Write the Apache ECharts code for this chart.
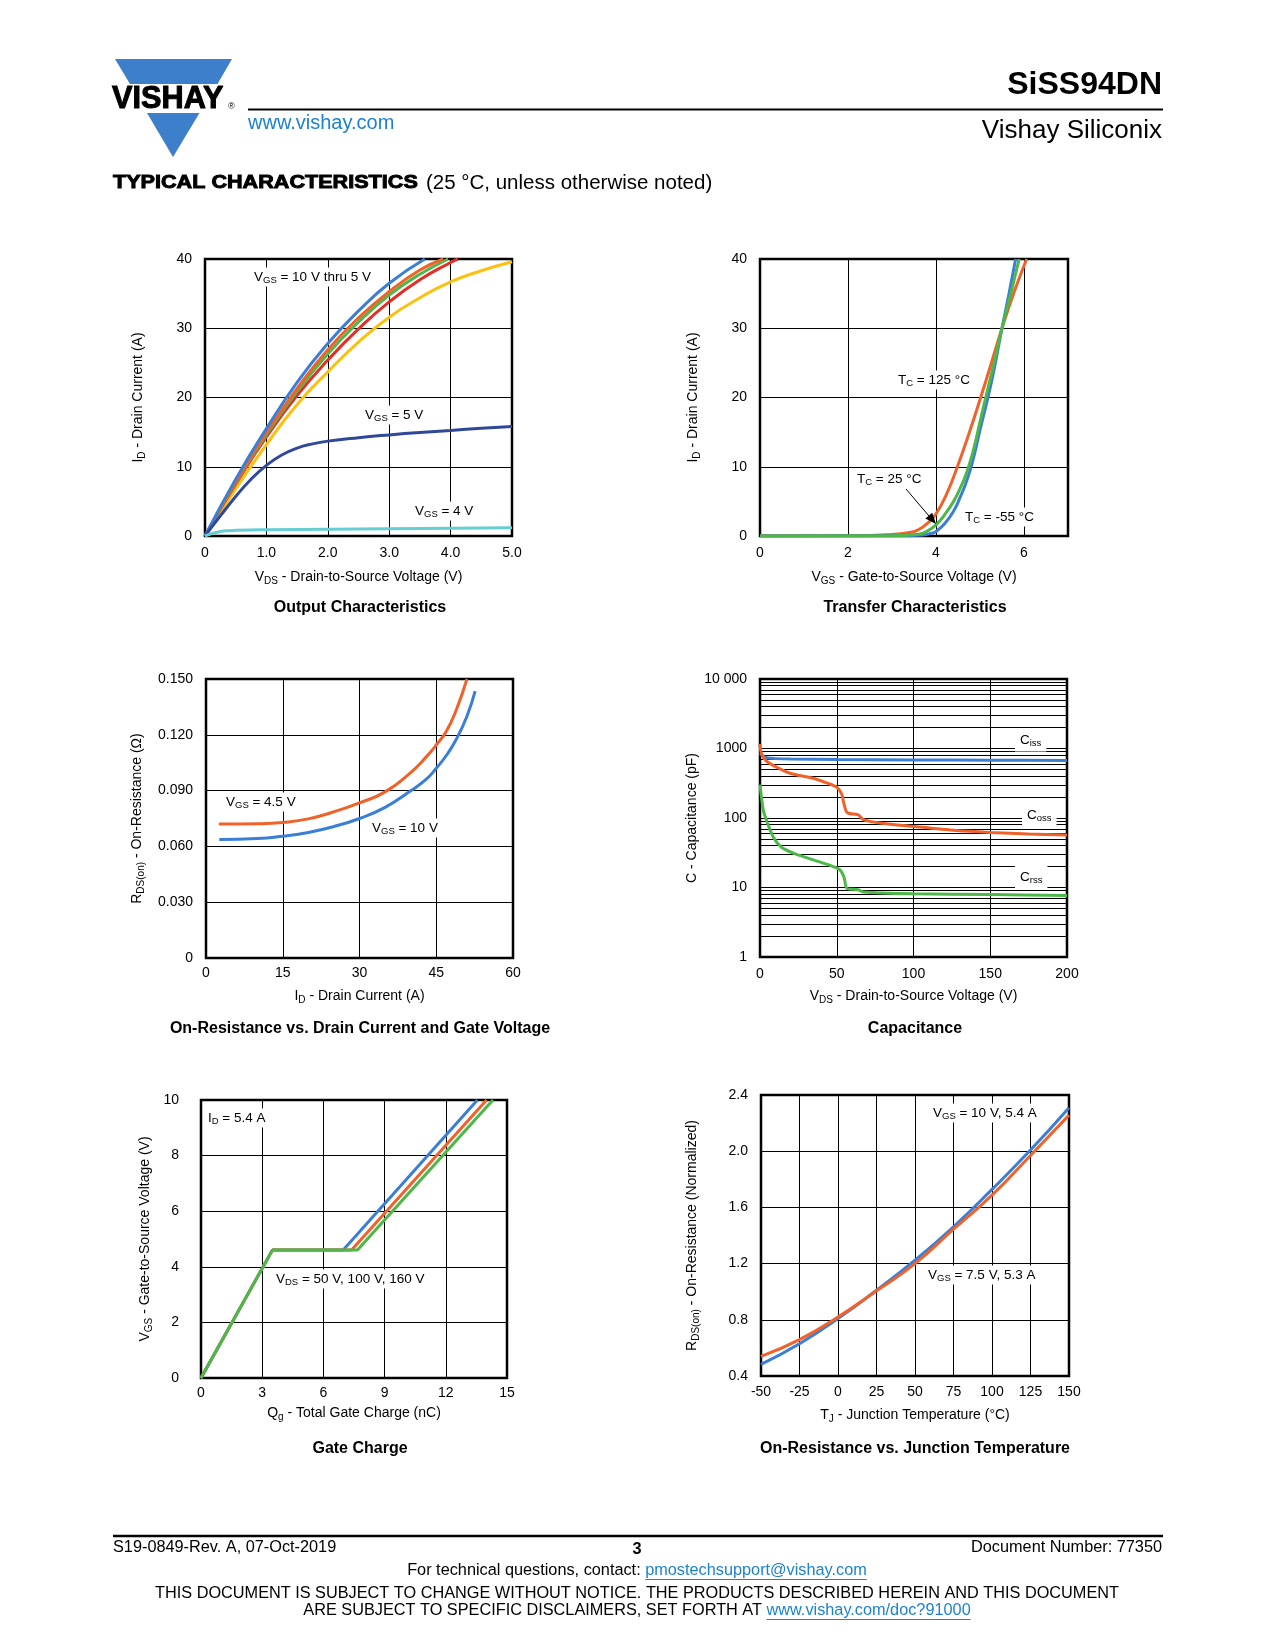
<!DOCTYPE html>
<html><head><meta charset="utf-8">
<script src="https://cdn.jsdelivr.net/npm/echarts@6/dist/echarts.min.js"></script>
<style>html,body{margin:0;padding:0;background:#fff}#c{width:1275px;height:1650px}</style>
</head><body><div id="c"></div>
<script>
const FONT = '"Liberation Sans", Arial, Helvetica, sans-serif';

// ---------- Output Characteristics (VDS, ID) ----------
const outVgs10 = [[0,0],[0.5,8.2],[1,15.5],[1.5,22.2],[2,27.8],[2.5,32.5],[3,36.5],[3.58,40]];
const outVgs9  = [[0,0],[0.5,7.8],[1,14.9],[1.5,21.3],[2,26.9],[2.5,31.5],[3,35.3],[3.5,38.4],[3.88,40]];
const outVgs8  = [[0,0],[0.5,7.7],[1,14.6],[1.5,20.9],[2,26.3],[2.5,30.9],[3,34.8],[3.5,37.8],[3.96,40]];
const outVgs7  = [[0,0],[0.5,7.5],[1,14.3],[1.5,20.3],[2,25.4],[2.5,29.9],[3,33.8],[3.5,37.0],[4.0,39.5],[4.12,40]];
const outVgs6  = [[0,0],[0.5,6.8],[1,13.2],[1.5,19.0],[2,23.7],[2.5,28.0],[3,31.6],[3.5,34.4],[4,36.7],[4.5,38.3],[5,39.6]];
const outVgs5  = [[0,0],[0.25,2.9],[0.5,5.7],[0.75,8.2],[1,10.2],[1.25,11.7],[1.5,12.7],[1.75,13.3],[2,13.7],[2.5,14.2],[3,14.6],[3.5,14.95],[4,15.25],[4.5,15.55],[5,15.8]];
const outVgs4  = [[0,0],[0.1,0.3],[0.2,0.55],[0.35,0.75],[0.5,0.82],[1,0.9],[2,0.98],[3,1.05],[4,1.12],[5,1.2]];

// ---------- Transfer Characteristics (VGS, ID) ----------
const trTc125 = [[0,0],[2,0.02],[3,0.2],[3.4,0.5],[3.6,0.9],[3.8,1.8],[4,3.2],[4.25,6.2],[4.48,9.9],[4.75,14.8],[5.01,19.9],[5.25,24.8],[5.5,30],[5.78,35.3],[6.06,40]];
const trTc25  = [[0,0],[3,0.05],[3.6,0.25],[3.8,0.7],[4,1.6],[4.2,3.1],[4.4,5.0],[4.55,6.9],[4.7,9.2],[4.85,12.4],[5.0,16.5],[5.13,20],[5.32,25],[5.5,30],[5.7,35],[5.89,40]];
const trTcM55 = [[0,0],[3,0.02],[3.7,0.15],[3.9,0.4],[4.0,0.65],[4.2,1.8],[4.4,3.6],[4.55,5.6],[4.7,8.0],[4.85,11.2],[5.0,15.3],[5.2,20.5],[5.35,25],[5.5,30],[5.66,35],[5.81,40]];

// ---------- On-Resistance vs Drain Current (ID, RDS) ----------
const ronVgs45 = [[2.5,0.072],[10,0.0722],[15,0.0729],[20,0.0748],[25,0.0786],[30,0.0834],[35,0.0893],[40,0.0997],[43,0.108],[45,0.1145],[47,0.122],[49,0.134],[51,0.150]];
const ronVgs10 = [[2.6,0.0637],[10,0.0642],[15,0.0655],[20,0.0675],[25,0.0707],[30,0.075],[35,0.081],[40,0.0899],[43,0.096],[45,0.102],[47,0.109],[49,0.118],[51,0.13],[52.6,0.1435]];

// ---------- Capacitance (VDS, pF) ----------
const capCiss = [[0,850],[2,780],[5,730],[10,715],[20,705],[50,695],[100,685],[150,678],[200,672]];
const capCoss = [[0,1165],[1,838],[4.3,656],[13,509],[19.5,441],[34.7,373],[43.4,320],[50,277],[53.2,222],[54.7,160],[56.9,119],[64,111],[67.3,95],[78,85],[100,75.5],[128,66],[150,62],[175,59],[200,57]];
const capCrss = [[0,303],[2.2,128],[4.3,92],[8.7,53],[14,38],[21.7,31.2],[34.7,25],[45.6,20.8],[52,18],[54.7,14.1],[56.9,9.6],[64,9.3],[67.3,8.6],[100,8.1],[150,7.9],[200,7.7]];
const capMinorTicks = [2,3,4,5,6,7,8,9,20,30,40,50,60,70,80,90,200,300,400,500,600,700,800,900,2000,3000,4000,5000,6000,7000,8000,9000];

// ---------- Gate Charge (Qg, VGS) ----------
const gcVds50  = [[0,0],[3.5,4.6],[6.97,4.6],[13.55,10]];
const gcVds100 = [[0,0],[3.5,4.6],[7.38,4.6],[14.0,10]];
const gcVds160 = [[0,0],[3.5,4.6],[7.67,4.6],[14.31,10]];

// ---------- On-Resistance vs Junction Temperature (TJ, norm) ----------
const rtVgs10 = [[-50,0.483],[-25,0.63],[0,0.809],[25,1.01],[50,1.224],[75,1.462],[100,1.728],[125,2.008],[150,2.31]];
const rtVgs75 = [[-50,0.54],[-25,0.659],[0,0.82],[25,1.006],[50,1.2],[75,1.445],[100,1.687],[125,1.97],[150,2.257]];

// colors
const C_BLUE='#3a7fd5', C_ORANGE='#f0622a', C_GREEN='#4cb848', C_RED='#e52d27', C_YELLOW='#fcc10f', C_DKBLUE='#2f4899', C_CYAN='#66cdd3';

const RN = {
  m:{fontSize:14, fontFamily:FONT, color:'#000', lineHeight:18},
  s:{fontSize:10, fontFamily:FONT, color:'#000', lineHeight:10, verticalAlign:'bottom'}
};
const RA = {
  m:{fontSize:13.5, fontFamily:FONT, fill:'#000', lineHeight:17},
  s:{fontSize:9.5, fontFamily:FONT, fill:'#000', lineHeight:9.5, verticalAlign:'bottom'}
};
function rt(parts){ return parts.map((p,i)=> p===''?'':((i%2===0?'{m|':'{s|')+p+'}')).join(''); }

const grids = [
  {left:205, top:259, width:307, height:277},
  {left:760, top:259, width:308, height:277},
  {left:206, top:679, width:307, height:279},
  {left:760, top:679, width:307, height:278},
  {left:201, top:1100, width:306, height:278},
  {left:761, top:1095, width:308, height:281}
].map(g=>Object.assign({show:true, borderColor:'#000', borderWidth:2.5, backgroundColor:'transparent', containLabel:false}, g));

const SPL = {show:true, lineStyle:{color:'#000', width:1, type:'solid'}};
function xA(gi,min,max,interval,fmt,name,nameGap,margin,extra){
  return Object.assign({type:'value', gridIndex:gi, min, max, interval,
    axisLine:{show:false}, axisTick:{show:false}, splitLine:SPL,
    axisLabel:{color:'#000', fontSize:14, fontFamily:FONT, margin, formatter:fmt},
    name, nameLocation:'middle', nameGap, nameTextStyle:{color:'#000', fontSize:14, fontFamily:FONT, rich:RN}}, extra||{});
}
function yA(gi,min,max,interval,fmt,name,nameGap,margin,extra){
  return Object.assign({type:'value', gridIndex:gi, min, max, interval,
    axisLine:{show:false}, axisTick:{show:false}, splitLine:SPL,
    axisLabel:{color:'#000', fontSize:14, fontFamily:FONT, margin, formatter:fmt},
    name, nameLocation:'middle', nameGap, nameTextStyle:{color:'#000', fontSize:14, fontFamily:FONT, rich:RN}}, extra||{});
}
const f1 = v => v===0?'0':v.toFixed(1);
const fInt = v => String(Math.round(v));
const f3 = v => v===0?'0':v.toFixed(3);

const xAxis = [
  xA(0,0,5,1,f1, rt(['V','DS',' - Drain-to-Source Voltage (V)']), 32, 10),
  xA(1,0,7,2,fInt, rt(['V','GS',' - Gate-to-Source Voltage (V)']), 32, 10, {axisLabel:{color:'#000',fontSize:14,fontFamily:FONT,margin:10,formatter:fInt,showMaxLabel:false}}),
  xA(2,0,60,15,fInt, rt(['I','D',' - Drain Current (A)']), 29, 8),
  xA(3,0,200,50,fInt, rt(['V','DS',' - Drain-to-Source Voltage (V)']), 30, 10),
  xA(4,0,15,3,fInt, rt(['Q','g',' - Total Gate Charge (nC)']), 26, 8),
  xA(5,-50,150,25,fInt, rt(['T','J',' - Junction Temperature (°C)']), 30, 9)
];
const yAxis = [
  yA(0,0,40,10,fInt, rt(['I','D',' - Drain Current (A)']), 58, 13),
  yA(1,0,40,10,fInt, rt(['I','D',' - Drain Current (A)']), 58, 13),
  yA(2,0,0.15,0.03,f3, rt(['R','DS(on)',' - On-Resistance (Ω)']), 60, 13),
  {type:'log', logBase:10, gridIndex:3, min:1, max:10000,
    axisLine:{show:false}, axisTick:{show:false}, splitLine:SPL, minorSplitLine:{show:false},
    axisLabel:{color:'#000', fontSize:14, fontFamily:FONT, margin:13, formatter:v=> v>=10000?'10 000':String(Math.round(v))},
    name:'{m|C - Capacitance (pF)}', nameLocation:'middle', nameGap:59, nameTextStyle:{color:'#000', fontSize:14, fontFamily:FONT, rich:RN}},
  yA(4,0,10,2,fInt, rt(['V','GS',' - Gate-to-Source Voltage (V)']), 47, 22),
  yA(5,0.4,2.4,0.4,v=>v.toFixed(1), rt(['R','DS(on)',' - On-Resistance (Normalized)']), 60, 13)
];

function ser(data,color,idx,extra){
  return Object.assign({type:'line', xAxisIndex:idx, yAxisIndex:idx, data, symbol:'none', showSymbol:false,
    lineStyle:{color, width:3}, itemStyle:{color}, smooth:0.5, silent:true, z:3}, extra||{});
}
const series = [
  ser(outVgs6,C_YELLOW,0), ser(outVgs7,C_RED,0), ser(outVgs8,C_GREEN,0), ser(outVgs9,C_ORANGE,0), ser(outVgs10,C_BLUE,0),
  ser(outVgs5,C_DKBLUE,0), ser(outVgs4,C_CYAN,0),
  ser(trTc125,C_ORANGE,1), ser(trTcM55,C_BLUE,1), ser(trTc25,C_GREEN,1),
  ser(ronVgs45,C_ORANGE,2), ser(ronVgs10,C_BLUE,2),
  {type:'line', xAxisIndex:3, yAxisIndex:3, data:[[0,1],[200,1]], symbol:'none', silent:true, z:1,
    lineStyle:{width:0, opacity:0},
    markLine:{silent:true, z:1, symbol:['none','none'], label:{show:false}, emphasis:{disabled:true},
      lineStyle:{color:'#000', width:1, type:'solid'}, data:capMinorTicks.map(v=>({yAxis:v}))}},
  ser(capCiss,C_BLUE,3,{smooth:0.3}), ser(capCoss,C_ORANGE,3,{smooth:0.3}), ser(capCrss,C_GREEN,3,{smooth:0.3}),
  ser(gcVds50,C_BLUE,4,{smooth:false}), ser(gcVds100,C_ORANGE,4,{smooth:false}), ser(gcVds160,C_GREEN,4,{smooth:false}),
  ser(rtVgs10,C_BLUE,5), ser(rtVgs75,C_ORANGE,5)
];

// ---------- graphic texts ----------
function txt(x,y,text,size,opts){
  opts = opts||{};
  const st = {text, x:0, y:0, fill:opts.fill||'#000', font:(opts.bold?'bold ':'')+size+'px '+FONT,
      align:opts.align||'left', textAlign:opts.align||'left', verticalAlign:'middle', textVerticalAlign:'middle'};
  if (opts.stroke) { st.stroke = opts.fill||'#000'; st.lineWidth = opts.stroke; }
  const el = {type:'text', x, y, z:100, silent:true, style:st};
  if (opts.scaleX) el.scaleX = opts.scaleX;
  return el;
}
function ann(x,y,parts,pad){
  return {type:'text', x, y, z:100, silent:true,
    style:{text:rt(parts), rich:RA, x:0, y:0, fill:'#000', font:'13.5px '+FONT,
      align:'left', textAlign:'left', verticalAlign:'middle', textVerticalAlign:'middle',
      backgroundColor:'#fff', padding:pad||[1,3]}};
}
const mctx = document.createElement('canvas').getContext('2d');
function tw(s,size){ mctx.font = size+'px '+FONT; return mctx.measureText(s).width; }

const FS = 16.3;
const ft1a='For technical questions, contact: ', ft1b='pmostechsupport@vishay.com';
const ft2='THIS DOCUMENT IS SUBJECT TO CHANGE WITHOUT NOTICE. THE PRODUCTS DESCRIBED HEREIN AND THIS DOCUMENT';
const ft3a='ARE SUBJECT TO SPECIFIC DISCLAIMERS, SET FORTH AT ', ft3b='www.vishay.com/doc?91000';
const LINK='#1b82cf';
const w1a=tw(ft1a,FS), w1b=tw(ft1b,FS), w3a=tw(ft3a,FS), w3b=tw(ft3b,FS);
const s1=637-(w1a+w1b)/2, s3=637-(w3a+w3b)/2;

const graphic = [
  // logo
  {type:'polygon', z:100, silent:true, shape:{points:[[115,59],[232,59],[217.5,84],[130,84]]}, style:{fill:'#3d7fca'}},
  {type:'polygon', z:100, silent:true, shape:{points:[[147,113],[199.5,113],[173,157]]}, style:{fill:'#3d7fca'}},
  txt(112,99,'VISHAY',31,{bold:true, scaleX:0.99, stroke:1}),
  txt(228,107,'®',9),
  {type:'line', z:100, silent:true, shape:{x1:248,y1:109.5,x2:1163,y2:109.5}, style:{stroke:'#000', lineWidth:2}},
  txt(248,123,'www.vishay.com',20,{fill:LINK}),
  txt(1162,85,'SiSS94DN',32,{bold:true, align:'right'}),
  txt(1162,131,'Vishay Siliconix',26,{align:'right'}),
  txt(113,183,'TYPICAL CHARACTERISTICS',18,{bold:true, scaleX:1.2, stroke:0.9}),
  txt(426,183,'(25 °C, unless otherwise noted)',20.5),
  // chart titles
  txt(360,608,'Output Characteristics',16,{bold:true, align:'center'}),
  txt(915,608,'Transfer Characteristics',16,{bold:true, align:'center'}),
  txt(360,1029,'On-Resistance vs. Drain Current and Gate Voltage',16,{bold:true, align:'center'}),
  txt(915,1029,'Capacitance',16,{bold:true, align:'center'}),
  txt(360,1449,'Gate Charge',16,{bold:true, align:'center'}),
  txt(915,1449,'On-Resistance vs. Junction Temperature',16,{bold:true, align:'center'}),
  // annotations
  ann(251,277,['V','GS',' = 10 V thru 5 V']),
  ann(362,415,['V','GS',' = 5 V']),
  ann(412,511,['V','GS',' = 4 V']),
  ann(895,380,['T','C',' = 125 °C']),
  ann(854,479,['T','C',' = 25 °C']),
  ann(962,517,['T','C',' = -55 °C']),
  ann(223,802,['V','GS',' = 4.5 V']),
  ann(369,828,['V','GS',' = 10 V']),
  ann(1015,740,['C','iss',''],[3,5]),
  ann(1022,815,['C','oss',''],[3,5]),
  ann(1015,877,['C','rss',''],[3,5]),
  ann(205,1118,['I','D',' = 5.4 A']),
  ann(273,1279,['V','DS',' = 50 V, 100 V, 160 V']),
  ann(930,1113,['V','GS',' = 10 V, 5.4 A']),
  ann(925,1275,['V','GS',' = 7.5 V, 5.3 A']),
  // arrow
  {type:'line', z:101, silent:true, shape:{x1:906,y1:489,x2:929,y2:516}, style:{stroke:'#000', lineWidth:1}},
  {type:'polygon', z:101, silent:true, shape:{points:[[936,524],[925.4,518.5],[932.2,512.7]]}, style:{fill:'#000'}},
  // footer
  {type:'line', z:100, silent:true, shape:{x1:113,y1:1536,x2:1163,y2:1536}, style:{stroke:'#000', lineWidth:2.5}},
  txt(113,1548,'S19-0849-Rev. A, 07-Oct-2019',FS),
  txt(637,1550,'3',FS,{bold:true, align:'center'}),
  txt(1162,1548,'Document Number: 77350',FS,{align:'right'}),
  txt(s1,1571,ft1a,FS),
  txt(s1+w1a,1571,ft1b,FS,{fill:LINK}),
  {type:'line', z:100, silent:true, shape:{x1:s1+w1a,y1:1579.5,x2:s1+w1a+w1b,y2:1579.5}, style:{stroke:LINK, lineWidth:1}},
  txt(637,1594,ft2,FS,{align:'center'}),
  txt(s3,1611,ft3a,FS),
  txt(s3+w3a,1611,ft3b,FS,{fill:LINK}),
  {type:'line', z:100, silent:true, shape:{x1:s3+w3a,y1:1619.5,x2:s3+w3a+w3b,y2:1619.5}, style:{stroke:LINK, lineWidth:1}}
];

const chart = echarts.init(document.getElementById('c'), null, {renderer:'canvas'});
chart.setOption({
  animation:false, backgroundColor:'#fff',
  textStyle:{fontFamily:FONT},
  grid:grids, xAxis, yAxis, series, graphic
});
</script></body></html>
